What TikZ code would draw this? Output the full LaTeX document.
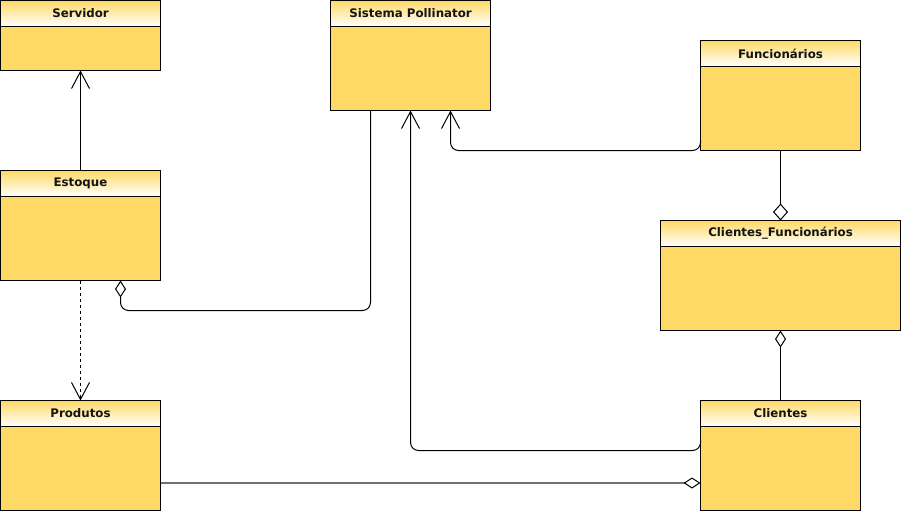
\documentclass[tikz,border=0pt]{standalone}
\usepackage{fontspec}
\setmainfont{DejaVu Sans}
\usetikzlibrary{arrows.meta,calc}
\definecolor{classfill}{HTML}{FFD966}
\definecolor{textdark}{HTML}{141414}
\definecolor{linegray}{HTML}{707070}
\tikzset{
  classbody/.style={draw=black, line width=1pt, fill=classfill, inner sep=0pt, outer sep=0pt},
  classhead/.style={draw=black, line width=1pt, top color=classfill, bottom color=white, minimum height=26pt, inner sep=0pt, outer sep=0pt, text=textdark, font=\fontsize{11.8}{13}\selectfont\bfseries},
  conn/.style={draw=black, line width=1pt},
  openarrow/.style={-{Straight Barb[length=17pt,width=18pt,line width=1pt]}},
  aggdiamond/.style={{Diamond[open,length=17pt,width=#1,line width=1pt]}-},
  aggdiamond/.default=11pt,
  roundbend/.style={rounded corners=8pt},
}
\newcommand{\umlclass}[6]{%
  \node[classbody, minimum width=#4pt, minimum height=#5pt, anchor=north west] (#1) at (#2,#3) {};
  \node[classhead, minimum width=#4pt, anchor=north west] (#1-h) at (#2,#3) {#6};
}
\begin{document}
\begin{tikzpicture}[x=1pt,y=-1pt]
\useasboundingbox (0,0) rectangle (901,511);
\umlclass{servidor}{0.5}{0.5}{160}{70}{Servidor}
\umlclass{sistema}{330.5}{0.5}{160}{110}{Sistema Pollinator}
\umlclass{func}{700.5}{40.5}{160}{110}{Funcionários}
\umlclass{estoque}{0.5}{170.5}{160}{110}{Estoque}
\umlclass{cf}{660.5}{220.5}{240}{110}{Clientes\_Funcionários}
\umlclass{produtos}{0.5}{400.5}{160}{110}{Produtos}
\umlclass{clientes}{700.5}{400.5}{160}{110}{Clientes}

% Estoque -> Servidor
\draw[conn, openarrow] (estoque-h.north) -- (servidor.south);
% Estoque -> Produtos (dependency)
\draw[conn, openarrow, dash pattern=on 3pt off 3pt] (estoque.south) -- (produtos-h.north);
% Sistema Pollinator <>- Estoque
\draw[conn, roundbend, aggdiamond] ($(estoque.south west)+(120,0)$) -- ++(0,30) -| ($(sistema.south west)+(40,0)$);
% Funcionarios -> Sistema
\draw[conn, roundbend, openarrow] ($(func.south west)+(0,-10)$) -- (func.south west) -| ($(sistema.south west)+(120,0)$);
% Clientes -> Sistema
\draw[conn, roundbend, openarrow] ($(clientes.north west)+(0,40)$) -- ++(0,10) -| ($(sistema.south west)+(80,0)$);
% Funcionarios - Clientes_Funcionarios
\draw[conn, aggdiamond=15pt] (cf-h.north) -- (func.south);
% Clientes_Funcionarios - Clientes
\draw[conn, aggdiamond] (cf.south) -- (clientes-h.north);
% Produtos - Clientes
\draw[draw=linegray, line width=1.6pt, -{Diamond[open,length=17pt,width=11pt,line width=1pt,color=black,fill=white]}] ($(produtos.north east)+(0,82.5)$) -- ($(clientes.north west)+(0,82.5)$);
\end{tikzpicture}
\end{document}
